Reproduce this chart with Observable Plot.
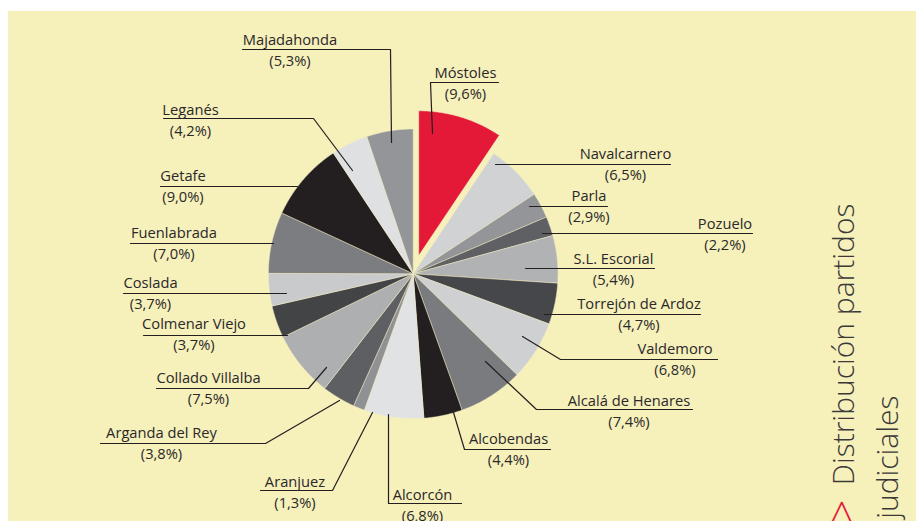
<!DOCTYPE html>
<html><head><meta charset="utf-8">
<script src="https://cdn.jsdelivr.net/npm/d3@7"></script>
<script src="https://cdn.jsdelivr.net/npm/@observablehq/plot@0.6"></script>
<style>
html,body{margin:0;padding:0;background:#fff;width:916px;height:521px;overflow:hidden;}
#panel{position:absolute;left:8px;top:11px;width:908px;height:510px;background:#f6f0bb;overflow:hidden;}
</style></head><body><div id="panel"></div>
<script>
// ---- data ----
const names = ["Móstoles","Navalcarnero","Parla","Pozuelo","S.L. Escorial","Torrejón de Ardoz","Valdemoro","Alcalá de Henares","Alcobendas","Alcorcón","Aranjuez","Arganda del Rey","Collado Villalba","Colmenar Viejo","Coslada","Fuenlabrada","Getafe","Leganés","Majadahonda"];
const values = [9.6,6.5,2.9,2.2,5.4,4.7,6.8,7.4,4.4,6.8,1.3,3.8,7.5,3.7,3.7,7.0,9.0,4.2,5.3];
const sliceColors = ["#e31937","#d1d2d4","#949598","#5f6063","#b1b2b4","#46474a","#cfd0d2","#7a7b7e","#231f20","#e1e2e4","#909194","#5e5f62","#aeafb1","#434446","#c9cacc","#7c7d80","#231f20","#dfe0e2","#939598"];
const explodedName = "Móstoles";
const titleLines = ["Distribución partidos","judiciales"];
const titleMarker = ">";

// ---- layout (page pixel coordinates) ----
const pie = {cx: 412.7, cy: 273.3, r: 144.8, explode: 19};
const labelLayout = [
  {name:"Majadahonda", tx:289.5, ty:44, pts:[[242,49],[390,49],[391,142]]},
  {name:"Móstoles", tx:465, ty:77, pts:[[498,82],[430,82],[432,133]]},
  {name:"Navalcarnero", tx:625, ty:158, pts:[[670,164],[495,164]]},
  {name:"Parla", tx:588.5, ty:200, pts:[[607,206],[529,206]]},
  {name:"Pozuelo", tx:724.5, ty:228, pts:[[752,233],[542,233]]},
  {name:"S.L. Escorial", tx:613, ty:263, pts:[[654,268],[525,268]]},
  {name:"Torrejón de Ardoz", tx:638.5, ty:308, pts:[[700,314],[544,314]]},
  {name:"Valdemoro", tx:674.5, ty:353, pts:[[717,359],[560,359],[522,336]]},
  {name:"Alcalá de Henares", tx:628.5, ty:405, pts:[[692,409],[536,409],[485,361]]},
  {name:"Alcobendas", tx:508, ty:443, pts:[[550,449],[464,449],[453,412]]},
  {name:"Alcorcón", tx:422, ty:499, pts:[[461,503],[388,503],[388,414]]},
  {name:"Aranjuez", tx:294.5, ty:486, pts:[[260,490],[332,490],[372,412]]},
  {name:"Arganda del Rey", tx:161, ty:437, pts:[[100,443],[265,443],[339,400]]},
  {name:"Collado Villalba", tx:208, ty:382, pts:[[156,388],[308,388],[326,367]]},
  {name:"Colmenar Viejo", tx:193.5, ty:328, pts:[[143,335],[287,335]]},
  {name:"Coslada", tx:150, ty:287, pts:[[123,293],[286,293]]},
  {name:"Fuenlabrada", tx:173.5, ty:237, pts:[[130,243],[273,243]]},
  {name:"Getafe", tx:182.5, ty:180, pts:[[160,186],[297,186]]},
  {name:"Leganés", tx:190, ty:114, pts:[[163,118],[313,118],[352,170]]}
];
const pctGap = 21;
const title = {x1: 853, x2: 897, end1: 203, end2: 395, markerX: 856, markerEnd: 499};

// ---- build pie polygons from values ----
const total = d3.sum(values);
const pieRows = [];
let cum = 0;
names.forEach((n, i) => {
  const a0 = cum / total * 2 * Math.PI;
  cum += values[i];
  const a1 = cum / total * 2 * Math.PI;
  const mid = (a0 + a1) / 2;
  const off = n === explodedName ? pie.explode : 0;
  const ox = pie.cx + off * Math.sin(mid), oy = pie.cy - off * Math.cos(mid);
  pieRows.push({name: n, x: ox, y: oy});
  const steps = Math.max(2, Math.ceil((a1 - a0) / (Math.PI / 360)));
  for (let k = 0; k <= steps; k++) {
    const a = a0 + (a1 - a0) * k / steps;
    pieRows.push({name: n, x: ox + pie.r * Math.sin(a), y: oy - pie.r * Math.cos(a)});
  }
  pieRows.push({name: n, x: ox, y: oy});
});

const valueOf = new Map(names.map((n, i) => [n, values[i]]));
const fmt = v => "(" + v.toFixed(1).replace(".", ",") + "%)";
const leaderRows = labelLayout.flatMap(l => l.pts.map(([x, y]) => ({name: l.name, x, y})));

const font = "'Open Sans', 'Noto Sans', sans-serif";
const textColor = "#2a2829";

const chart = Plot.plot({
  width: 908, height: 510,
  marginLeft: 0, marginRight: 0, marginTop: 0, marginBottom: 0,
  style: {background: "transparent", overflow: "visible"},
  x: {domain: [8, 916], range: [0, 908], axis: null},
  y: {domain: [11, 521], range: [0, 510], axis: null},
  color: {domain: names, range: sliceColors},
  marks: [
    Plot.line(pieRows, {x: "x", y: "y", z: "name", fill: "name", stroke: "#f2ecc4", strokeWidth: 0.5, curve: "linear"}),
    Plot.line(leaderRows, {x: "x", y: "y", z: "name", stroke: "#231f20", strokeWidth: 1.2, curve: "linear"}),
    Plot.text(labelLayout, {x: "tx", y: "ty", text: "name", textAnchor: "middle", lineAnchor: "bottom", fontSize: 14.7, fontFamily: font, fill: textColor}),
    Plot.text(labelLayout, {x: "tx", y: d => d.ty + pctGap, text: d => fmt(valueOf.get(d.name)), textAnchor: "middle", lineAnchor: "bottom", fontSize: 14.7, fontFamily: font, fill: textColor}),
    Plot.text([titleLines[0]], {x: () => title.x1, y: () => title.end1, text: d => d, rotate: -90, textAnchor: "end", lineAnchor: "bottom", fontSize: 30, fontWeight: 300, fontFamily: font, fill: "#3a3839"}),
    Plot.text([titleLines[1]], {x: () => title.x2, y: () => title.end2, text: d => d, rotate: -90, textAnchor: "end", lineAnchor: "bottom", fontSize: 30, fontWeight: 300, fontFamily: font, fill: "#3a3839"}),
    Plot.text([titleMarker], {x: () => title.markerX, y: () => title.markerEnd, text: d => d, rotate: -90, textAnchor: "end", lineAnchor: "bottom", fontSize: 42, fontWeight: 300, fontFamily: font, fill: "#e31937"})
  ]
});
document.getElementById("panel").appendChild(chart);
</script>
</body></html>
